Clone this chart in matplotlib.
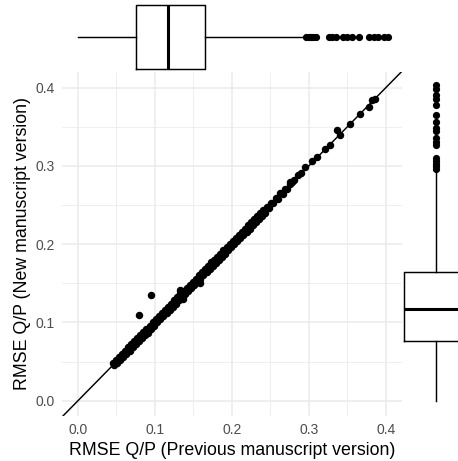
import matplotlib
matplotlib.use("Agg")
import matplotlib.pyplot as plt
import numpy as np

# RMSE Q/P, previous vs new manuscript version
prev_rmse = [
    0.046, 0.047, 0.049, 0.051, 0.053, 0.055, 0.057, 0.059, 0.061, 0.063,
    0.065, 0.067, 0.069, 0.071, 0.073, 0.075, 0.077, 0.079, 0.081, 0.083,
    0.085, 0.087, 0.089, 0.091, 0.093, 0.095, 0.097, 0.099, 0.101, 0.103,
    0.105, 0.107, 0.109, 0.111, 0.113, 0.115, 0.117, 0.119, 0.121, 0.123,
    0.125, 0.127, 0.129, 0.131, 0.133, 0.135, 0.137, 0.139, 0.141, 0.143,
    0.145, 0.147, 0.149, 0.151, 0.153, 0.155, 0.157, 0.159, 0.161, 0.163,
    0.165, 0.167, 0.169, 0.171, 0.173, 0.175, 0.177, 0.179, 0.181, 0.183,
    0.185, 0.187, 0.189, 0.191, 0.193, 0.195, 0.197, 0.199, 0.201, 0.203,
    0.205, 0.207, 0.209, 0.211, 0.213, 0.215, 0.217, 0.219, 0.221, 0.223,
    0.225, 0.227, 0.229, 0.231, 0.233, 0.235, 0.237, 0.239, 0.241, 0.243,
    0.245, 0.248, 0.251, 0.254, 0.257, 0.260, 0.263, 0.266, 0.269, 0.272,
    0.275, 0.278, 0.281,
    # off-band and sparse upper points
    0.136, 0.133, 0.158, 0.0797, 0.0945,
    0.2757, 0.2865, 0.290, 0.295, 0.304, 0.310, 0.321, 0.327, 0.336, 0.340,
    0.3537, 0.3667, 0.3775, 0.382, 0.386,
]
new_rmse = [
    0.048, 0.045, 0.052, 0.048, 0.056, 0.052, 0.060, 0.056, 0.064, 0.060,
    0.068, 0.064, 0.072, 0.068, 0.076, 0.072, 0.080, 0.076, 0.084, 0.080,
    0.088, 0.084, 0.092, 0.087, 0.096, 0.092, 0.100, 0.096, 0.104, 0.100,
    0.108, 0.104, 0.112, 0.108, 0.116, 0.112, 0.120, 0.116, 0.124, 0.120,
    0.128, 0.124, 0.132, 0.128, 0.137, 0.132, 0.140, 0.136, 0.144, 0.140,
    0.148, 0.144, 0.152, 0.148, 0.156, 0.152, 0.160, 0.156, 0.164, 0.160,
    0.168, 0.164, 0.172, 0.168, 0.177, 0.172, 0.180, 0.176, 0.184, 0.180,
    0.188, 0.184, 0.192, 0.188, 0.196, 0.192, 0.200, 0.196, 0.204, 0.200,
    0.208, 0.204, 0.212, 0.208, 0.216, 0.212, 0.220, 0.216, 0.224, 0.220,
    0.228, 0.224, 0.232, 0.228, 0.236, 0.232, 0.240, 0.236, 0.244, 0.240,
    0.247, 0.246, 0.253, 0.252, 0.259, 0.258, 0.265, 0.264, 0.271, 0.271,
    0.277, 0.279, 0.282,
    0.130, 0.141, 0.151, 0.1094, 0.135,
    0.2797, 0.288, 0.291, 0.299, 0.306, 0.311, 0.322, 0.3266, 0.3457, 0.340,
    0.353, 0.366, 0.3755, 0.384, 0.386,
]

# marginal boxplot summary (same for both margins)
box_whislo = 0.0
box_q1 = 0.076
box_med = 0.117
box_q3 = 0.165
box_whishi = 0.2925
box_fliers = [0.2965, 0.300, 0.303, 0.306, 0.3095, 0.3264, 0.3300, 0.3355,
              0.3446, 0.3490, 0.3563, 0.3654, 0.3784, 0.3850, 0.3901, 0.398, 0.403]

W, H = 458, 461
fig = plt.figure(figsize=(W / 100, H / 100), dpi=100)
plt.rcParams["font.family"] = ["Liberation Sans", "DejaVu Sans"]

lims = (-0.0208, 0.421)
ylims = (-0.0196, 0.42)


def frac_x(px):
    return px / W


def frac_y(py):
    return 1 - py / H


# main panel
ax = fig.add_axes([frac_x(62), frac_y(416), frac_x(402) - frac_x(62), frac_y(72) - frac_y(416)])
ax.set_xlim(*lims)
ax.set_ylim(*ylims)
ticks = [0.0, 0.1, 0.2, 0.3, 0.4]
minor = [0.05, 0.15, 0.25, 0.35]
ax.set_xticks(ticks)
ax.set_yticks(ticks)
ax.set_xticks(minor, minor=True)
ax.set_yticks(minor, minor=True)
ax.set_xticklabels([f"{t:.1f}" for t in ticks])
ax.set_yticklabels([f"{t:.1f}" for t in ticks])
ax.grid(True, which="major", color="#EBEBEB", linewidth=1.1, zorder=0)
ax.grid(True, which="minor", color="#EBEBEB", linewidth=0.55, zorder=0)
ax.tick_params(which="both", length=0, labelsize=10.0, colors="#4D4D4D", pad=5)
for s in ax.spines.values():
    s.set_visible(False)
ax.set_axisbelow(True)

ax.scatter(prev_rmse, new_rmse, s=29, color="black", linewidths=0, zorder=3)
ax.axline((0, 0), slope=1, color="black", linewidth=1.05, zorder=4)

ax.set_xlabel("RMSE Q/P (Previous manuscript version)", fontsize=12.8, color="black", labelpad=3.5)
ax.set_ylabel("RMSE Q/P (New manuscript version)", fontsize=12.8, color="black", labelpad=3.5)

stats = [dict(whislo=box_whislo, q1=box_q1, med=box_med, q3=box_q3,
              whishi=box_whishi, fliers=box_fliers)]
box_style = dict(
    boxprops=dict(color="black", linewidth=1.05),
    whiskerprops=dict(color="black", linewidth=1.05),
    capprops=dict(linewidth=0),
    medianprops=dict(color="black", linewidth=2.2),
    flierprops=dict(marker="o", markerfacecolor="black", markeredgecolor="black",
                    markersize=5.2, markeredgewidth=0),
    showcaps=False,
)

# top marginal boxplot
axt = fig.add_axes([frac_x(62), frac_y(72), frac_x(402) - frac_x(62), frac_y(0) - frac_y(72)])
axt.set_xlim(*lims)
axt.set_ylim(0, 1)
axt.bxp(stats, positions=[(72 - 37) / 72], widths=64 / 72, vert=False,
        patch_artist=False, manage_ticks=False, **box_style)
axt.axis("off")

# right marginal boxplot
axr = fig.add_axes([frac_x(402), frac_y(416), 68 / W, frac_y(72) - frac_y(416)])
axr.set_ylim(*ylims)
axr.set_xlim(0, 1)
axr.bxp(stats, positions=[0.5], widths=64 / 68, vert=True,
        patch_artist=False, manage_ticks=False, **box_style)
axr.axis("off")

fig.savefig("out.png", dpi=100)
